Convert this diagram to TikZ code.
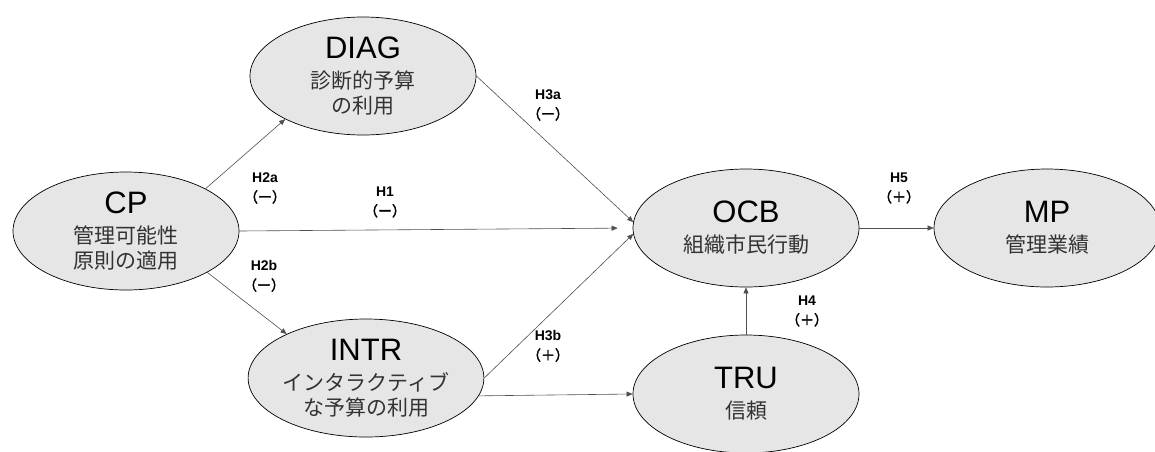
\documentclass[tikz,border=0pt]{standalone}
\usepackage{fontspec}
\setmainfont{Liberation Sans}
\newfontfamily\jpFont{Noto Sans CJK JP}
\newfontfamily\jpBoldFont{Noto Sans CJK JP}[FakeBold=2.5]
\usetikzlibrary{arrows.meta,shapes.geometric}
\definecolor{varFill}{RGB}{230,230,230}
\definecolor{pathColor}{RGB}{80,80,80}
\definecolor{jpColor}{RGB}{51,51,51}
\tikzstyle{pathDiagram} = [x = 1pt, y = -1pt]
\tikzstyle{latentVar} = [ellipse, draw=black, line width=.7pt, fill=varFill, minimum width=226pt, minimum height=118pt, inner sep=0pt, align=center, font=\fontsize{21}{25}\selectfont]
\tikzstyle{pathArrow} = [draw=pathColor, line width=.6pt, -{Triangle[length=6pt, width=5pt]}]
\tikzstyle{hypLabel} = [align=center, inner sep=0pt, font=\fontsize{14}{20}\selectfont]
\newcommand{\varName}[1]{{\fontsize{31}{31}\selectfont #1}}
\newcommand{\varText}[1]{{\jpFont\color{jpColor}#1}}
\newcommand{\hypText}[2]{{\bfseries #1}\\{\jpBoldFont #2}}

\begin{document}
\begin{tikzpicture}[pathDiagram]
  \useasboundingbox [fill=white] (0,0) rectangle (1155,451);

  \node [latentVar] (cp) at (126,231) {\varName{CP}\\[5pt]\varText{管理可能性}\\\varText{原則の適用}};
  \node [latentVar] (diag) at (363,76) {\varName{DIAG}\\[5pt]\varText{診断的予算}\\\varText{の利用}};
  \node [latentVar] (intr) at (366,378) {\varName{INTR}\\[5pt]\varText{インタラクティブ}\\\varText{な予算の利用}};
  \node [latentVar] (ocb) at (746,228) {\varName{OCB}\\[5pt]\varText{組織市民行動}};
  \node [latentVar] (tru) at (746,394) {\varName{TRU}\\[5pt]\varText{信頼}};
  \node [latentVar] (mp) at (1047,228) {\varName{MP}\\[5pt]\varText{管理業績}};

  \draw [pathArrow] (cp.28) -- (diag.209);
  \draw [pathArrow] (cp.-27) -- (intr.151);
  \draw [pathArrow, shorten >=15pt] (cp.east) -- (ocb.west);
  \draw [pathArrow] (diag.east) -- (ocb.177);
  \draw [pathArrow] (intr.east) -- (ocb.183);
  \draw [pathArrow] (intr.-9) -- (tru.west);
  \draw [pathArrow] (tru) -- (ocb);
  \draw [pathArrow] (ocb) -- (mp);

  \node [hypLabel] (h2a) at (265,188) {\hypText{H2a}{（ー）}};
  \node [hypLabel] (h2b) at (264,276) {\hypText{H2b}{（ー）}};
  \node [hypLabel] (h1) at (385,202) {\hypText{H1}{（ー）}};
  \node [hypLabel] (h3a) at (548,105) {\hypText{H3a}{（ー）}};
  \node [hypLabel] (h3b) at (548,346) {\hypText{H3b}{（＋）}};
  \node [hypLabel] (h4) at (807,311) {\hypText{H4}{（＋）}};
  \node [hypLabel] (h5) at (899,188) {\hypText{H5}{（＋）}};
\end{tikzpicture}
\end{document}
